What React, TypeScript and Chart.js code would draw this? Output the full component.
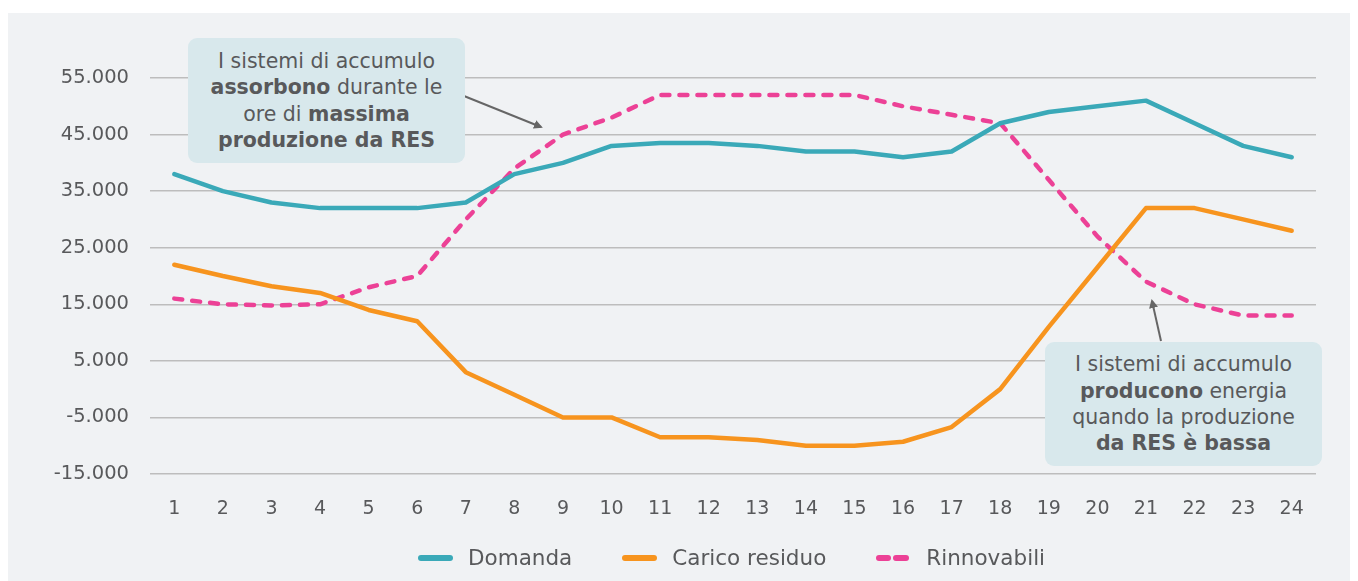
import React, { useEffect, useRef } from "react";
import { Chart, registerables } from "chart.js";

Chart.register(...registerables);

const hours = ["1","2","3","4","5","6","7","8","9","10","11","12","13","14","15","16","17","18","19","20","21","22","23","24"];
const domanda = [38000,35000,33000,32000,32000,32000,33000,38000,40000,43000,43500,43500,43000,42000,42000,41000,42000,47000,49000,50000,51000,47000,43000,41000];
const caricoResiduo = [22000,20000,18200,17000,14000,12000,3000,-1000,-5000,-5000,-8500,-8500,-9000,-10000,-10000,-9300,-6700,0,11000,21500,32000,32000,30000,28000];
const rinnovabili = [16000,15000,14800,15000,18000,20000,30000,39000,45000,48000,52000,52000,52000,52000,52000,50000,48500,47000,37000,27000,19000,15000,13000,13000];
const yMin = -15000;
const yMax = 55000;
const yStep = 10000;

const TEAL = "#3aa9b8";
const ORANGE = "#f7941e";
const PINK = "#ec4196";
const TEXT = "#58595b";
const FONT = "'DejaVu Sans', sans-serif";

function fmt(v: number): string {
  const neg = v < 0;
  const s = Math.abs(Math.round(v)).toString();
  const out = s.replace(/\B(?=(\d{3})+(?!\d))/g, ".");
  return (neg ? "-" : "") + out;
}

export default function App() {
  const ref = useRef<HTMLCanvasElement>(null);
  useEffect(() => {
    if (!ref.current) return;
    const chart = new Chart(ref.current, {
      type: "line",
      data: {
        labels: hours,
        datasets: [
          { label: "Domanda", data: domanda, borderColor: TEAL, backgroundColor: TEAL, borderWidth: 4.5, pointRadius: 0, tension: 0, borderCapStyle: "round", borderJoinStyle: "round" },
          { label: "Carico residuo", data: caricoResiduo, borderColor: ORANGE, backgroundColor: ORANGE, borderWidth: 4.5, pointRadius: 0, tension: 0, borderCapStyle: "round", borderJoinStyle: "round" },
          { label: "Rinnovabili", data: rinnovabili, borderColor: PINK, backgroundColor: PINK, borderWidth: 4.5, pointRadius: 0, tension: 0, borderDash: [8, 10], borderCapStyle: "round", borderJoinStyle: "round" },
        ],
      },
      options: {
        animation: false,
        responsive: false,
        maintainAspectRatio: false,
        layout: { padding: { left: 0, top: 65, right: 42, bottom: 0 } },
        plugins: { legend: { display: false }, tooltip: { enabled: false } },
        scales: {
          x: {
            offset: true,
            grid: { display: false },
            border: { display: false },
            ticks: { color: TEXT, font: { family: FONT, size: 19 }, padding: 16, maxRotation: 0 },
            afterFit: (s: any) => { s.height = 59; },
          },
          y: {
            min: yMin,
            max: yMax,
            grid: { color: "#bdbdbd", lineWidth: 1.5, drawTicks: false },
            border: { display: false },
            ticks: { stepSize: yStep, color: TEXT, font: { family: FONT, size: 19.5 }, padding: 21, callback: (v: any) => fmt(Number(v)) },
            afterFit: (s: any) => { s.width = 142; },
          },
        },
      },
    });
    return () => chart.destroy();
  }, []);

  const boxStyle: React.CSSProperties = {
    position: "absolute",
    background: "#d8e8ec",
    borderRadius: 9,
    color: TEXT,
    fontFamily: FONT,
    fontSize: 20.5,
    lineHeight: "26.3px",
    textAlign: "center",
    display: "flex",
    flexDirection: "column",
    justifyContent: "center",
    boxSizing: "border-box",
    whiteSpace: "nowrap",
  };

  const legendItem = (color: string, label: string, dashed: boolean, last: boolean) => (
    <div style={{ display: "flex", alignItems: "center", marginRight: last ? 0 : 50 }}>
      <svg width={35} height={8} style={{ marginRight: 15 }}>
        {dashed ? (
          <>
            <line x1={3} y1={4} x2={12} y2={4} stroke={color} strokeWidth={6} strokeLinecap="round" />
            <line x1={20} y1={4} x2={30} y2={4} stroke={color} strokeWidth={6} strokeLinecap="round" />
          </>
        ) : (
          <line x1={3} y1={4} x2={32} y2={4} stroke={color} strokeWidth={6} strokeLinecap="round" />
        )}
      </svg>
      <span>{label}</span>
    </div>
  );

  return (
    <div style={{ position: "relative", width: 1350, height: 568, marginTop: 5, background: "#f0f2f4", overflow: "hidden" }}>
      <canvas ref={ref} width={1350} height={520} style={{ position: "absolute", left: 0, top: 0, width: 1350, height: 520 }} />
      <svg width={1350} height={568} style={{ position: "absolute", left: 0, top: 0, pointerEvents: "none" }}>
        <defs>
          <marker id="ah" markerWidth="9" markerHeight="9" refX="7" refY="4.5" orient="auto" markerUnits="userSpaceOnUse">
            <path d="M0,0 L9,4.5 L0,9 z" fill="#666" />
          </marker>
        </defs>
        <line x1={456} y1={83} x2={533} y2={114} stroke="#666" strokeWidth={2} markerEnd="url(#ah)" />
        <line x1={1153} y1={328} x2={1144} y2={288} stroke="#666" strokeWidth={2} markerEnd="url(#ah)" />
      </svg>
      <div style={{ ...boxStyle, left: 180, top: 25, width: 277, height: 125 }}>
        <div>I sistemi di accumulo</div>
        <div><b>assorbono</b> durante le</div>
        <div>ore di <b>massima</b></div>
        <div><b>produzione da RES</b></div>
      </div>
      <div style={{ ...boxStyle, left: 1037, top: 329, width: 277, height: 124 }}>
        <div>I sistemi di accumulo</div>
        <div><b>producono</b> energia</div>
        <div>quando la produzione</div>
        <div><b>da RES è bassa</b></div>
      </div>
      <div style={{ position: "absolute", left: 410, top: 532, display: "flex", color: TEXT, fontFamily: FONT, fontSize: 21.5, lineHeight: "26px" }}>
        {legendItem(TEAL, "Domanda", false, false)}
        {legendItem(ORANGE, "Carico residuo", false, false)}
        {legendItem(PINK, "Rinnovabili", true, true)}
      </div>
    </div>
  );
}
